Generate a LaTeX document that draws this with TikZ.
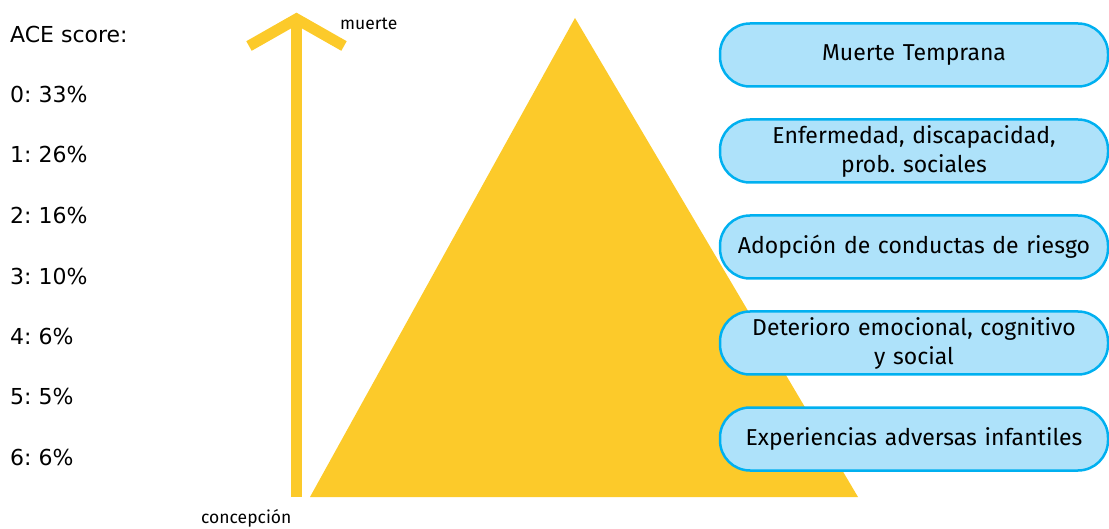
\documentclass[tikz,border=0pt]{standalone}
\usepackage{fontspec}
\setmainfont{Fira Sans}
\newfontfamily\scorefont{DejaVu Sans}
\usetikzlibrary{positioning}
\definecolor{acegold}{RGB}{252,202,42}
\definecolor{stageline}{RGB}{0,176,240}
\definecolor{stagefill}{RGB}{174,226,250}
\frenchspacing
\begin{document}
\begin{tikzpicture}[
			x = 1pt,
			y = -1pt,
			stage/.style = {
			    rectangle,
			    draw = stageline,
			    fill = stagefill,
			    line width = 2.5pt,
                text width = 370pt,
                text centered,
                rounded corners = 30pt,
                minimum width = 388pt,
                minimum height = 63pt,
                inner sep = 0pt,
                font = \fontsize{23}{29}\selectfont},
            score/.style = {
                anchor = base west,
                inner sep = 0pt,
                font = \scorefont\fontsize{22}{26}\selectfont},
            lifeline/.style = {
                draw = acegold,
                line width = 11pt},
            node distance = 96pt]
        \useasboundingbox (0,0) rectangle (1109,529);
        % Pyramid
        \fill [acegold] (310,497) -- (575,18) -- (858,497) -- cycle;
        % Life arrow
        \coordinate (birth) at (296.5,497);
        \coordinate (death) at (296.5,19);
        \path [lifeline] (birth) -- (death);
        \path [lifeline, miter limit = 10] (death) ++(-47.5,27) -- (death) -- ++(47.5,27);
        \node [anchor = base west, inner sep = 0pt, font = \fontsize{17.5}{20}\selectfont] (muerte) at (340,30) {muerte};
        \node [anchor = base west, inner sep = 0pt, font = \fontsize{17.5}{20}\selectfont] (concepcion) at (201,523) {concepción};
        % Place scores
        \node [score] (title) at (10,43) {ACE score:};
        \node [score] (s0) at (10,103) {0: 33\%};
        \node [score] (s1) at (10,163) {1: 26\%};
        \node [score] (s2) at (10,224) {2: 16\%};
        \node [score] (s3) at (10,285) {3: 10\%};
        \node [score] (s4) at (10,345) {4: 6\%};
        \node [score] (s5) at (10,405) {5: 5\%};
        \node [score] (s6) at (10,465) {6: 6\%};
        % Place stages
        \node [stage] (early) at (914,55) {Muerte Temprana};
        \node [stage, below of=early] (disease) {Enfermedad, discapacidad,\\prob. sociales};
        \node [stage, below of=disease] (risk) {Adopción de conductas de riesgo};
        \node [stage, below of=risk] (impair) {Deterioro emocional, cognitivo\\y social};
        \node [stage, below of=impair] (ace) {Experiencias adversas infantiles};
    \end{tikzpicture}
\end{document}
